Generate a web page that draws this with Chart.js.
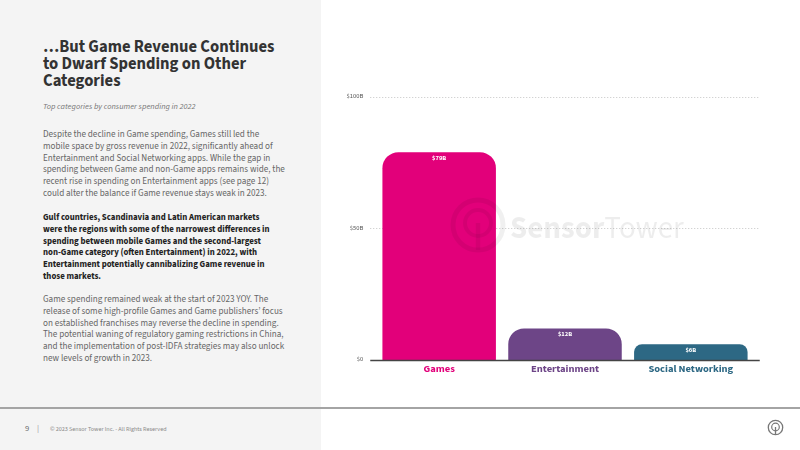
<!DOCTYPE html>
<html>
<head>
<meta charset="utf-8">
<script src="https://cdn.jsdelivr.net/npm/chart.js@4.4.0/dist/chart.umd.min.js"></script>
<style>
    html, body { margin: 0; padding: 0; }
    body { width: 800px; height: 450px; position: relative; overflow: hidden; background: #fff; font-family: 'Source Sans 3', sans-serif; }
    .panel { position: absolute; left: 0; top: 0; width: 321px; height: 450px; background: #f4f4f4; }
    .rule { position: absolute; left: 0; top: 407px; width: 800px; height: 2px; background: #a4a4a4; }
    .title { position: absolute; left: 43px; top: 39px; font-size: 16.6px; font-weight: 700; line-height: 17px; color: #333; }
    .subtitle { position: absolute; left: 43px; top: 101px; font-size: 8.3px; font-style: italic; color: #777; }
    .para { position: absolute; left: 43px; font-size: 9.1px; line-height: 11.83px; color: #666; white-space: nowrap; }
    .para.bold { font-weight: 700; font-size: 8.8px; color: #222; }
    .footer { position: absolute; top: 422px; font-size: 8.5px; color: #666; }
    .copy { position: absolute; left: 50px; top: 425px; font-size: 6.1px; color: #888; white-space: nowrap; }
    #wrap { position: absolute; left: 330px; top: 80px; width: 430px; height: 310px; }
    .mark { position: absolute; left: 449px; top: 196px; pointer-events: none; }
</style>
</head>
<body>
<div class="panel"></div>
<div class="rule"></div>

<div class="title">…But Game Revenue Continues<br>to Dwarf Spending on Other<br>Categories</div>
<div class="subtitle">Top categories by consumer spending in 2022</div>

<div class="para" style="top:129px">Despite the decline in Game spending, Games still led the<br>mobile space by gross revenue in 2022, significantly ahead of<br>Entertainment and Social Networking apps. While the gap in<br>spending between Game and non-Game apps remains wide, the<br>recent rise in spending on Entertainment apps (see page 12)<br>could alter the balance if Game revenue stays weak in 2023.</div>

<div class="para bold" style="top:212px">Gulf countries, Scandinavia and Latin American markets<br>were the regions with some of the narrowest differences in<br>spending between mobile Games and the second-largest<br>non-Game category (often Entertainment) in 2022, with<br>Entertainment potentially cannibalizing Game revenue in<br>those markets.</div>

<div class="para" style="top:294px">Game spending remained weak at the start of 2023 YOY. The<br>release of some high-profile Games and Game publishers’ focus<br>on established franchises may reverse the decline in spending.<br>The potential waning of regulatory gaming restrictions in China,<br>and the implementation of post-IDFA strategies may also unlock<br>new levels of growth in 2023.</div>

<div class="footer" style="left:25px">9</div>
<div class="footer" style="left:37px;color:#999">|</div>
<div class="copy">© 2023 Sensor Tower Inc. - All Rights Reserved</div>

<svg style="position:absolute;left:767px;top:419px" width="17" height="17" viewBox="0 0 17 17">
    <circle cx="8.5" cy="8.5" r="7.2" fill="none" stroke="#777" stroke-width="1.3"/>
    <circle cx="8.5" cy="8" r="3.8" fill="none" stroke="#777" stroke-width="1.2"/>
    <line x1="8.5" y1="8" x2="8.5" y2="15.7" stroke="#777" stroke-width="1.3"/>
</svg>

<div id="wrap"><canvas id="chart"></canvas></div>

<svg class="mark" width="240" height="60" viewBox="0 0 240 60">
    <g fill="none" stroke="rgba(0,0,0,0.06)">
        <circle cx="29" cy="29" r="25" stroke-width="5"/>
        <circle cx="29" cy="27" r="13" stroke-width="4"/>
        <line x1="29" y1="27" x2="29" y2="54" stroke-width="4.5"/>
    </g>
    <text x="61" y="42" font-family="Source Sans 3" font-size="31" fill="rgba(0,0,0,0.07)"><tspan font-weight="700">Sensor</tspan><tspan font-weight="400">Tower</tspan></text>
</svg>

<script>
const categories = ['Games', 'Entertainment', 'Social Networking'];
const spending = [79, 12, 6];
const valueLabels = ['$79B', '$12B', '$6B'];
const yTickValues = [0, 50, 100];
const yTickLabels = ['$0', '$50B', '$100B'];

const barColors = ['#e2007a', '#6d4587', '#2d6884'];
const fontFamily = "'Source Sans 3', sans-serif";

// dotted grid lines a little wider than the bar area, as in the slide
const gridLines = {
    id: 'gridLines',
    beforeDatasetsDraw(chart) {
        const { ctx, chartArea, scales: { y } } = chart;
        ctx.save();
        ctx.strokeStyle = '#c4c4c4';
        ctx.lineWidth = 1;
        ctx.setLineDash([1, 2]);
        yTickValues.forEach((v) => {
            if (v === 0) {
                return;
            }
            const py = Math.round(y.getPixelForValue(v)) + 0.5;
            ctx.beginPath();
            ctx.moveTo(chartArea.left - 6, py);
            ctx.lineTo(chartArea.right + 6, py);
            ctx.stroke();
        });
        ctx.restore();
    },
    afterDatasetsDraw(chart) {
        const { ctx, chartArea, scales: { y } } = chart;
        const py = y.getPixelForValue(0);
        ctx.save();
        ctx.strokeStyle = '#444';
        ctx.lineWidth = 1.5;
        ctx.beginPath();
        ctx.moveTo(chartArea.left - 6, py + 0.5);
        ctx.lineTo(chartArea.right + 6, py + 0.5);
        ctx.stroke();

        // value labels inside the top of each bar
        const meta = chart.getDatasetMeta(0);
        ctx.fillStyle = '#fff';
        ctx.font = `700 6.5px ${fontFamily}`;
        ctx.textAlign = 'center';
        ctx.textBaseline = 'middle';
        meta.data.forEach((bar, i) => {
            ctx.fillText(valueLabels[i], bar.x, bar.y + 6);
        });
        ctx.restore();
    },
};

function renderChart() {
    new Chart(document.getElementById('chart'), {
        type: 'bar',
        data: {
            labels: categories,
            datasets: [{
                data: spending,
                backgroundColor: barColors,
                borderRadius: { topLeft: 16, topRight: 16, bottomLeft: 0, bottomRight: 0 },
                borderSkipped: 'start',
                categoryPercentage: 1,
                barPercentage: 0.902,
            }],
        },
        options: {
            responsive: true,
            maintainAspectRatio: false,
            animation: false,
            layout: { padding: { top: 14, right: 6.25, left: 0, bottom: 0 } },
            plugins: { legend: { display: false }, tooltip: { enabled: false } },
            scales: {
                x: {
                    grid: { display: false, drawTicks: false },
                    border: { display: false },
                    ticks: {
                        padding: 3,
                        color: (ctx) => barColors[ctx.index],
                        font: { family: fontFamily, size: 10.5, weight: 700 },
                    },
                    afterFit: (scale) => { scale.height = 30; },
                },
                y: {
                    min: 0,
                    max: 100,
                    grid: { display: false, drawTicks: false },
                    border: { display: false },
                    afterBuildTicks: (scale) => {
                        scale.ticks = yTickValues.map((v) => ({ value: v }));
                    },
                    ticks: {
                        padding: 13,
                        color: '#555',
                        font: { family: fontFamily, size: 6.5 },
                        callback: (v) => yTickLabels[yTickValues.indexOf(v)],
                    },
                    afterFit: (scale) => { scale.width = 46.25; },
                },
            },
        },
        plugins: [gridLines],
    });
}

Promise.all([
    document.fonts.load(`700 11px ${fontFamily}`),
    document.fonts.load(`400 6px ${fontFamily}`),
]).then(renderChart, renderChart);
</script>
</body>
</html>
